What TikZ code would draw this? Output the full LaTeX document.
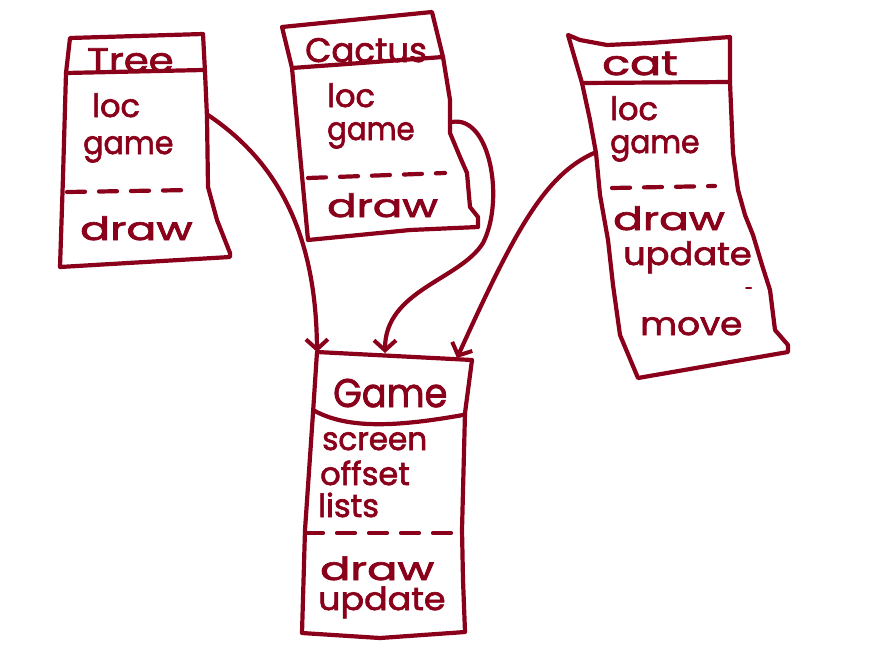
\documentclass[tikz,border=0pt]{standalone}
\usepackage{fontspec}
\newfontfamily\hand[FakeBold=2]{Poppins}
\usetikzlibrary{arrows.meta}
\definecolor{ink}{RGB}{138,0,26}
\newcommand{\wide}[2]{\scalebox{#1}[1]{#2}}
\tikzset{
  pen/.style={draw=ink, line width=4.2pt, line join=round, line cap=round},
  sep/.style={pen, dash pattern=on 18pt off 14pt},
  link/.style={pen, -{Straight Barb[length=10pt,width=22pt,line width=4pt]}},
  txt/.style={anchor=base west, inner sep=0pt, text depth=0pt, text=ink, font=\hand\fontsize{32}{32}\selectfont},
  head/.style={txt, font=\hand\fontsize{34}{34}\selectfont},
}
\begin{document}
\begin{tikzpicture}[x=1pt,y=-1pt]
\useasboundingbox (0,0) rectangle (888,662);
% ---------- Tree ----------
\draw[pen] (70,38) -- (203,34) -- (205,72) -- (207,117) -- (208,187) -- (217,220) -- (230,253) -- (230,257) -- (60,267) -- (63,177) -- (66,73) -- cycle;
\draw[pen] (66,73) -- (203,70);
\draw[sep] (67,192) -- (192,190);
\node[head] (treeN) at (87,72) {\wide{1.18}{Tree}};
\node[txt] (treeA) at (92,117) {loc};
\node[txt] (treeB) at (83,154) {\wide{0.94}{game}};
\node[txt] (treeC) at (80,240) {\wide{1.38}{draw}};
\coordinate (treeOut) at (208,115);
% ---------- Cactus ----------
\draw[pen] (282,27) -- (432,12) -- (443,57) -- (450,100) -- (450,133) -- (460,157) -- (467,173) -- (470,207) -- (478,217) -- (478,227) -- (410,230) -- (308,240) -- (292,68) -- cycle;
\draw[pen] (292,68) -- (443,57);
\draw[sep] (308,178) -- (445,173);
\node[head] (cacN) at (305,62) {Cactus};
\node[txt] (cacA) at (327,107) {loc};
\node[txt] (cacB) at (327,140) {\wide{0.91}{game}};
\node[txt] (cacC) at (327,217) {\wide{1.36}{draw}};
\coordinate (cacOut) at (452,122);
% ---------- Cat ----------
\draw[pen] (568,35) -- (580,40) -- (607,45) -- (650,43) -- (730,37) -- (730,83) -- (733,153) -- (738,190) -- (745,215) -- (753,235) -- (762,265) -- (770,290) -- (775,330) -- (788,345) -- (788,352) -- (638,378) -- (620,335) -- (613,285) -- (608,240) -- (600,195) -- (596,153) -- (590,120) -- (582,83) -- cycle;
\draw[pen] (582,83) -- (730,82);
\draw[sep] (612,188) -- (715,186);
\draw[pen, line width=2pt] (746,288) -- (751,288);
\node[head] (catN) at (602,75) {\wide{1.35}{cat}};
\node[txt] (catA) at (610,120) {loc};
\node[txt] (catB) at (610,153) {\wide{0.93}{game}};
\node[txt] (catC) at (613,230) {\wide{1.37}{draw}};
\node[txt] (catD) at (623,265) {\wide{1.1}{update}};
\node[txt] (catE) at (640,335) {\wide{1.12}{move}};
\coordinate (catOut) at (594,153);
% ---------- Game ----------
\draw[pen] (317,352) -- (472,360) -- (465,413) -- (462,530) -- (463,580) -- (465,632) -- (380,638) -- (302,633) -- (305,530) -- (313,413) -- cycle;
\draw[pen] (313,410) .. controls (345,428) and (390,428) .. (463,415);
\draw[sep] (305,533) -- (463,533);
\node[txt, font=\hand\fontsize{40}{40}\selectfont] (gameN) at (333,407) {\wide{0.92}{Game}};
\node[txt] (gameA) at (322,450) {\wide{0.97}{screen}};
\node[txt] (gameB) at (320,485) {offset};
\node[txt] (gameC) at (318,517) {lists};
\node[txt] (gameD) at (320,580) {\wide{1.4}{draw}};
\node[txt] (gameE) at (318,610) {\wide{1.09}{update}};
\coordinate (gameIn1) at (317,352);
\coordinate (gameIn2) at (385,353);
\coordinate (gameIn3) at (457,358);
% ---------- connectors ----------
\draw[link] (treeOut) .. controls (275,160) and (316,230) .. (gameIn1);
\draw[link] (cacOut) .. controls (490,115) and (505,200) .. (483,243) .. controls (460,280) and (385,290) .. (gameIn2);
\draw[link] (catOut) .. controls (545,175) and (515,230) .. (gameIn3);
\end{tikzpicture}
\end{document}
